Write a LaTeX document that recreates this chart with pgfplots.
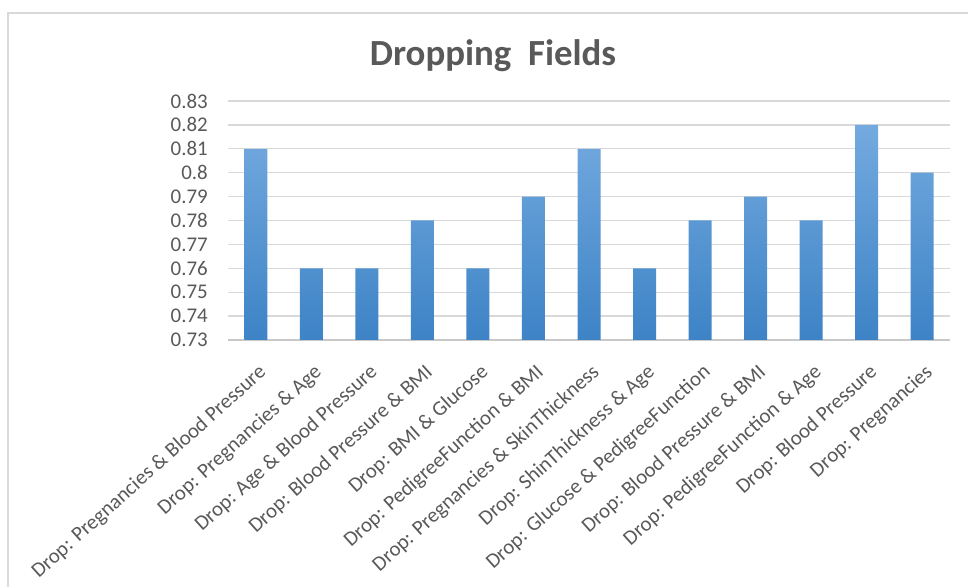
\documentclass[border=0pt]{standalone}
\usepackage{pgfplots}
\pgfplotsset{compat=1.18}
\usepackage{fontspec}
\setmainfont{Carlito}
\definecolor{txt}{HTML}{595959}
\definecolor{gridc}{HTML}{D9D9D9}
\definecolor{axc}{HTML}{C8C8C8}
\definecolor{bartop}{HTML}{74AADF}
\definecolor{barbot}{HTML}{3D83C6}
\begin{document}
\begin{tikzpicture}[x=1bp,y=1bp]
\path[use as bounding box] (0,0) rectangle (968,587);
\draw[gridc, line width=1.5bp] (8,0) -- (8,574) -- (968,574);
\node[anchor=base, font=\fontsize{37}{40}\selectfont\bfseries, text=txt] at (493,521) {Dropping\ \ Fields};
\begin{axis}[
  at={(228bp,247bp)}, anchor=south west,
  width=722bp, height=239bp, scale only axis,
  xmin=-0.5, xmax=12.5, ymin=0, ymax=0.1,
  y filter/.expression={y-0.73},
  ytick={0,0.01,0.02,0.03,0.04,0.05,0.06,0.07,0.08,0.09,0.1},
  yticklabels={0.73,0.74,0.75,0.76,0.77,0.78,0.79,0.8,0.81,0.82,0.83},
  xtick={0,1,2,3,4,5,6,7,8,9,10,11,12},
  xticklabels={Drop: Pregnancies \& Blood Pressure, Drop: Pregnancies \& Age, Drop: Age \& Blood Pressure, Drop: Blood Pressure \& BMI, Drop: BMI \& Glucose, Drop: PedigreeFunction \& BMI, Drop: Pregnancies \& SkinThickness, Drop: ShinThickness \& Age, Drop: Glucose \& PedigreeFunction, Drop: Blood Pressure \& BMI, Drop: PedigreeFunction \& Age, Drop: Blood Pressure, Drop: Pregnancies},
  axis lines*=left,
  axis line style={-},
  y axis line style={draw=none},
  x axis line style={draw=axc, line width=1.5bp},
  ymajorgrids, grid style={gridc, line width=1.3bp},
  major tick length=0pt,
  tick label style={font=\fontsize{21}{24}\selectfont, text=txt},
  yticklabel style={anchor=east, inner sep=0pt, xshift=-20bp},
  xticklabel style={rotate=42, anchor=east, inner sep=0pt, xshift=-14bp, yshift=-27bp},
]
\addplot[ybar, bar width=23bp, draw=none, top color=bartop, bottom color=barbot] coordinates {
(0,0.81) (1,0.76) (2,0.76) (3,0.78) (4,0.76) (5,0.79) (6,0.81) (7,0.76) (8,0.78) (9,0.79) (10,0.78) (11,0.82) (12,0.80)
};
\end{axis}
\end{tikzpicture}
\end{document}
